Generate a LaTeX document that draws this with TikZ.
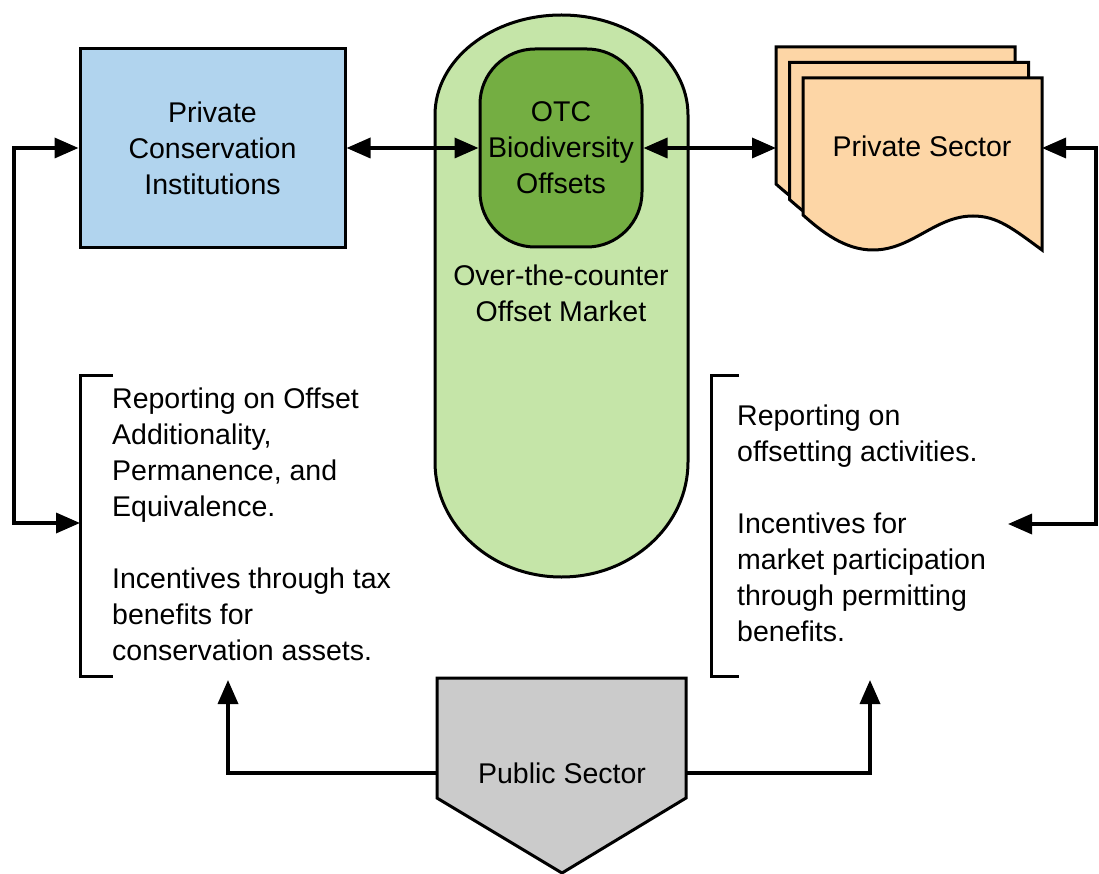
\documentclass[tikz,border=0pt]{standalone}
\usepackage{fontspec}
\setmainfont{Liberation Sans}
\usetikzlibrary{arrows.meta}
\definecolor{boxblue}{HTML}{B1D4EE}
\definecolor{pillgreen}{HTML}{C5E5A8}
\definecolor{otcgreen}{HTML}{74AE42}
\definecolor{docpeach}{HTML}{FDD6A6}
\definecolor{pubgray}{HTML}{CBCBCB}
\begin{document}
\begin{tikzpicture}[x=1pt,y=1pt,
  lw/.style={line width=3pt},
  txt/.style={font=\fontsize{28.5}{36}\selectfont, inner sep=0pt, align=center},
  ltxt/.style={font=\fontsize{28.5}{36}\selectfont, inner sep=0pt, align=left, anchor=north west},
  arr/.style={line width=3.5pt, -{Triangle[length=24pt,width=20pt]}},
  barr/.style={line width=3.5pt, {Triangle[length=24pt,width=20pt]}-{Triangle[length=24pt,width=20pt]}},
]
\useasboundingbox (0,0) rectangle (1099,-874);

% outer pill (over-the-counter market)
\draw[lw, fill=pillgreen] (435,-115) arc[start angle=180,end angle=0,x radius=126.5,y radius=100]
  -- (688,-462) arc[start angle=0,end angle=-180,x radius=126.5,y radius=115] -- cycle;

\node[draw, lw, fill=boxblue, minimum width=265pt, minimum height=199pt, txt] (pci) at (212.5,-148) {Private\\Conservation\\Institutions};

\node[draw, lw, fill=otcgreen, rounded corners=55pt, minimum width=162pt, minimum height=198pt, txt] (otc) at (561,-148) {OTC\\Biodiversity\\Offsets};

\node[txt] (otm) at (561,-293) {Over-the-counter\\Offset Market};

% private sector document stack
\foreach \s in {2,1,0}{
  \draw[lw, fill=docpeach, shift={(-13.5*\s,15.5*\s)}] (803,-78) -- (1042,-78) -- (1042,-250)
    .. controls (1012,-228) and (997,-216) .. (973,-216)
    .. controls (935,-216) and (912,-250) .. (873,-250)
    .. controls (845,-250) and (822,-232) .. (803,-215) -- cycle;
}
\node[txt] (ps) at (922,-146) {Private Sector};
\coordinate (psw) at (776,-148);
\coordinate (pse) at (1042,-148);

% public sector
\draw[lw, fill=pubgray] (437,-678) -- (686,-678) -- (686,-798) -- (562,-873) -- (437,-798) -- cycle;
\node[txt] (pub) at (562,-773) {Public Sector};
\coordinate (pubw) at (437,-773);
\coordinate (pube) at (686,-773);

% brackets
\draw[lw] (113,-375) -- (80,-375) -- (80,-676) -- (113,-676);
\draw[lw] (739,-375) -- (711,-375) -- (711,-676) -- (739,-676);

\node[ltxt] (lt) at (112,-388) {Reporting on Offset\\Additionality,\\Permanence, and\\Equivalence.\\[36pt]Incentives through tax\\benefits for\\conservation assets.};
\node[ltxt] (rt) at (737,-405) {Reporting on\\offsetting activities.\\[36pt]Incentives for\\market participation\\through permitting\\benefits.};

% connectors
\coordinate (l1) at (14,-148);
\coordinate (l2) at (14,-523);
\coordinate (lb) at (80,-523);
\draw[arr] (l2) -- (l1) -- (pci.west);
\draw[arr] (l1) -- (l2) -- (lb);

\draw[barr] (pci.east) -- (otc.west);
\draw[barr] (otc.east) -- (psw);

\coordinate (r1) at (1096,-148);
\coordinate (r2) at (1096,-524);
\coordinate (rtip) at (1008,-524);
\draw[arr] (r2) -- (r1) -- (pse);
\draw[arr] (r1) -- (r2) -- (rtip);

\coordinate (la) at (228,-680);
\coordinate (ra) at (870,-680);
\draw[arr] (pubw) -| (la);
\draw[arr] (pube) -| (ra);
\end{tikzpicture}
\end{document}
